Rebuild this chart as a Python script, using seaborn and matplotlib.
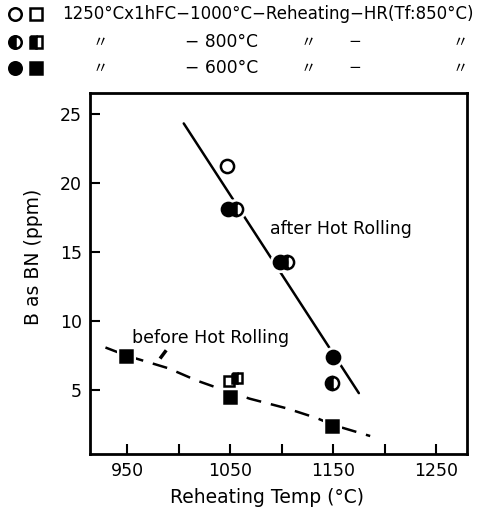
import matplotlib
matplotlib.use("Agg")
import matplotlib.pyplot as plt
import seaborn as sns
import pandas as pd

sns.set_theme(style="white")
plt.rcParams["font.family"] = ["DejaVu Sans", "Noto Sans CJK JP"]
plt.rcParams["text.color"] = "black"
plt.rcParams["axes.labelcolor"] = "black"
plt.rcParams["xtick.color"] = "black"
plt.rcParams["ytick.color"] = "black"

# Boron precipitated as BN after hot rolling (circles), by reheating temperature
after_temp_open = [1047]
after_bn_open = [21.2]
after_temp_half = [1056, 1105, 1149]
after_bn_half = [18.1, 14.3, 5.5]
after_temp_full = [1048, 1098, 1150]
after_bn_full = [18.1, 14.3, 7.4]

# Boron as BN before hot rolling (squares)
before_temp_open = [1049]
before_bn_open = [5.7]
before_temp_half = [1057]
before_bn_half = [5.9]
before_temp_full = [949, 1050, 1149]
before_bn_full = [7.5, 4.5, 2.4]

# Trend lines
after_trend_temp = [1005, 1175]
after_trend_bn = [24.3, 4.8]
before_trend_temp = [929, 950, 990, 1018, 1037, 1069, 1105, 1134, 1150, 1186]
before_trend_bn = [8.1, 7.5, 6.6, 5.7, 5.2, 4.4, 3.7, 3.0, 2.5, 1.7]

x_ticks_major = [950, 1050, 1150, 1250]
x_ticks_minor = [1000, 1100, 1200]
y_ticks = [5, 10, 15, 20, 25]

fig = plt.figure(figsize=(4.82, 5.16), dpi=100)
ax = fig.add_axes([90 / 482, 1 - 454 / 516, (467 - 90) / 482, (454 - 93) / 516])

LW = 1.8
# trend lines
sns.lineplot(x=after_trend_temp, y=after_trend_bn, ax=ax, color="black", lw=LW,
             sort=False, estimator=None, zorder=1)
sns.lineplot(x=before_trend_temp, y=before_trend_bn, ax=ax, color="black", lw=LW,
             sort=False, estimator=None, zorder=1, dashes=False)
ax.lines[-1].set_dashes([6, 4])

def pts(xs, ys, marker, size, fill, halo=True):
    df = pd.DataFrame({"t": xs, "b": ys})
    if halo:
        sns.lineplot(data=df, x="t", y="b", ax=ax, linestyle="none", marker=marker,
                     markersize=size + 5, markerfacecolor="white", markeredgecolor="white",
                     sort=False, estimator=None, zorder=2)
    kw = dict(linestyle="none", marker=marker, markersize=size, markeredgecolor="black",
              markeredgewidth=1.8, sort=False, estimator=None, zorder=3)
    if fill == "full":
        kw.update(markerfacecolor="black")
    elif fill == "none":
        kw.update(markerfacecolor="white")
    else:
        kw.update(fillstyle="left", markerfacecolor="black", markerfacecoloralt="white")
    sns.lineplot(data=df, x="t", y="b", ax=ax, **kw)

pts(after_temp_open, after_bn_open, "o", 9.5, "none", halo=False)
pts(after_temp_half, after_bn_half, "o", 9.5, "half")
pts(after_temp_full, after_bn_full, "o", 9.5, "full")
pts(before_temp_open, before_bn_open, "s", 7.5, "none")
pts(before_temp_half, before_bn_half, "s", 7.5, "half")
pts(before_temp_full, before_bn_full, "s", 8, "full")

ax.text(1089, 16.7, "after Hot Rolling", fontsize=12.5, va="center", ha="left")
ax.text(955, 8.8, "before Hot Rolling", fontsize=12.5, va="center", ha="left")
ax.plot([982, 988], [7.3, 7.9], color="black", lw=2.5, solid_capstyle="butt")

ax.set_xlim(914, 1280)
ax.set_ylim(0.4, 26.5)
ax.set_xticks(x_ticks_major)
ax.set_xticks(x_ticks_minor, minor=True)
ax.set_yticks(y_ticks)
ax.set_xticklabels([str(v) for v in x_ticks_major], fontsize=12.5)
ax.set_yticklabels([str(v) for v in y_ticks], fontsize=12.5)
ax.tick_params(axis="both", which="both", direction="in", length=7, width=1.5,
               bottom=True, left=True, top=False, right=False, color="black", pad=6)
for s in ax.spines.values():
    s.set_linewidth(2)
    s.set_color("black")
ax.set_xlabel("Reheating Temp (°C)", fontsize=13.5)
ax.set_ylabel("B as BN (ppm)", fontsize=13.5)
ax.xaxis.set_label_coords(0.47, -0.095)
ax.yaxis.set_label_coords(-0.125, 0.546)
ax.grid(False)

# header key
hx = fig.add_axes([0, 1 - 80 / 516, 1, 80 / 516])
hx.set_xlim(0, 482)
hx.set_ylim(80, 0)
hx.axis("off")
rows = [14, 42, 68]
styles = ["none", "left", "full"]
for y, fill in zip(rows, styles):
    for xm, mk, ms in [(15, "o", 9), (36, "s", 8)]:
        kw = dict(marker=mk, markersize=ms, markeredgecolor="black", markeredgewidth=1.8,
                  linestyle="none")
        if fill == "none":
            kw.update(markerfacecolor="white")
        elif fill == "full":
            kw.update(markerfacecolor="black")
        else:
            kw.update(fillstyle="left", markerfacecolor="black", markerfacecoloralt="white")
        hx.plot([xm], [y], **kw)

hx.text(62, 14, "1250°Cx1hFC−1000°C−Reheating−HR(Tf:850°C)", fontsize=12, va="center", ha="left")
for y, temp in [(42, "800°C"), (68, "600°C")]:
    for xt, s in [(100, "〃"), (308, "〃"), (355, "−"), (460, "〃")]:
        hx.text(xt, y, s, fontsize=11, va="center", ha="center")
    hx.text(185, y, "− " + temp, fontsize=12.3, va="center", ha="left")

fig.savefig("out.png", dpi=100, facecolor="white")
